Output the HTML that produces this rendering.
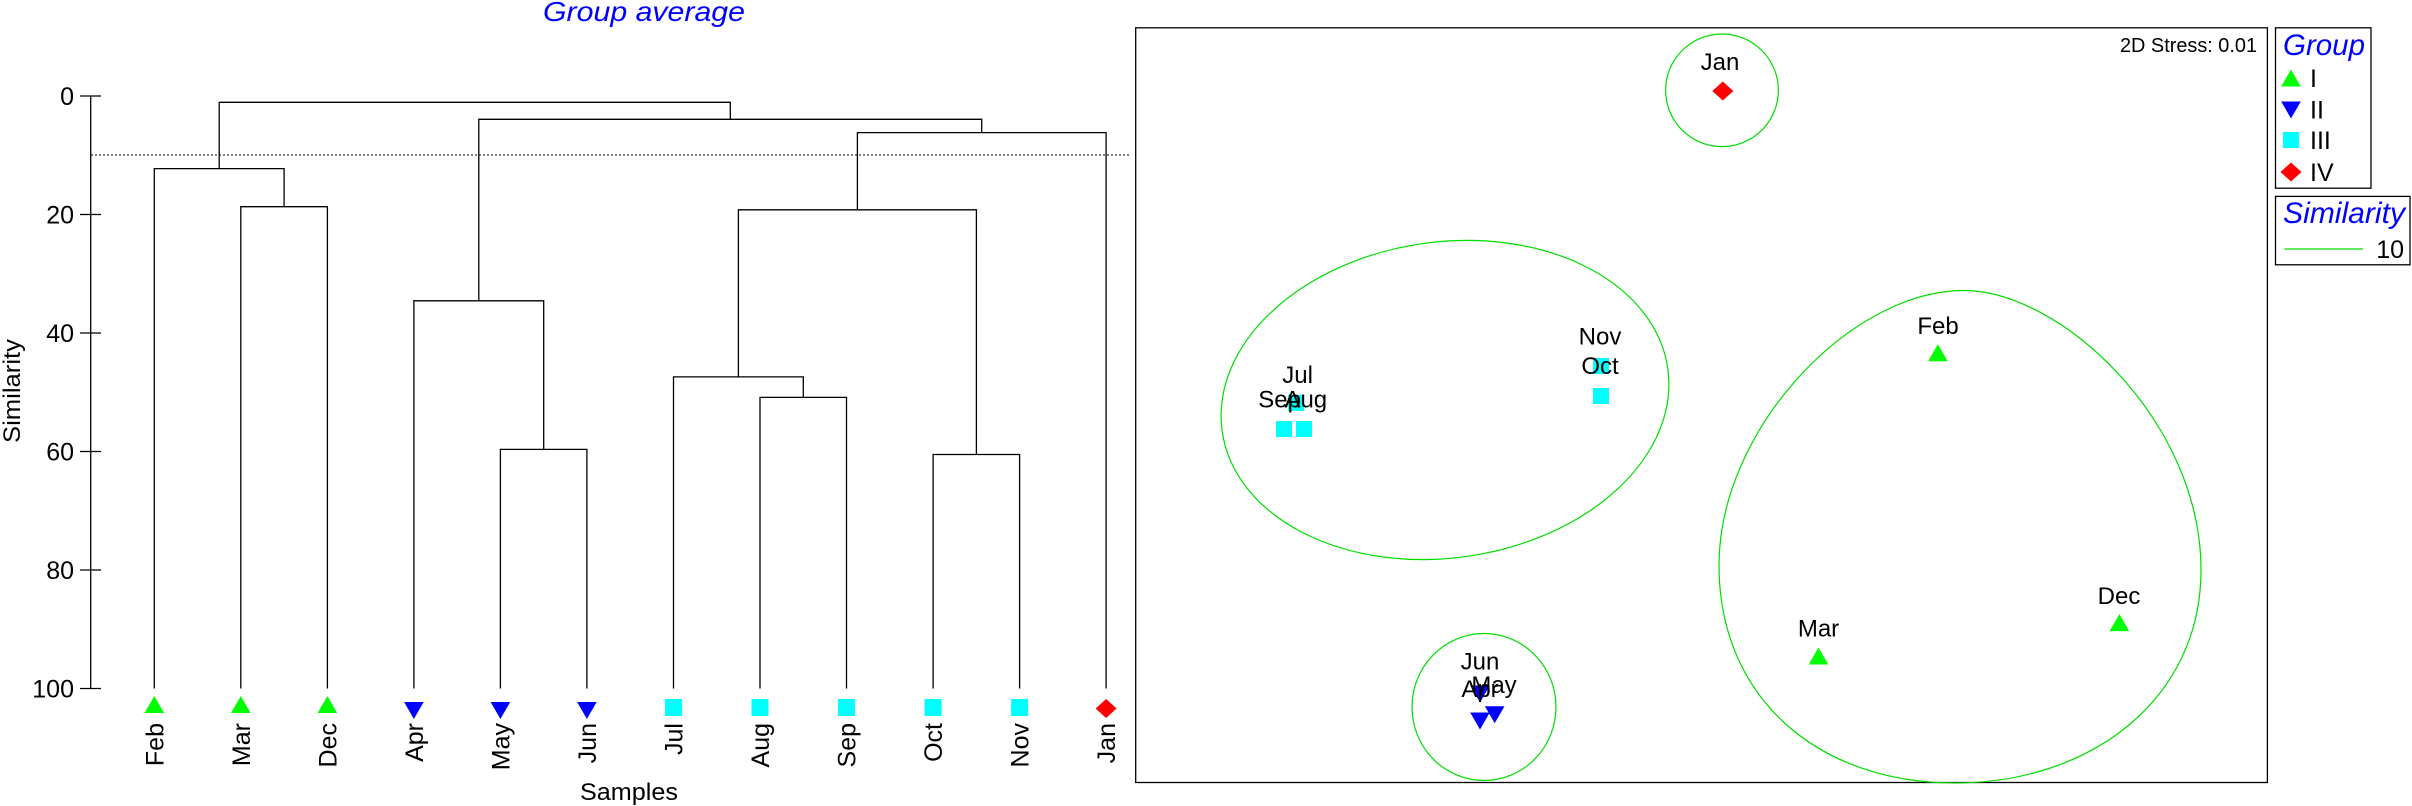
<!DOCTYPE html>
<html><head><meta charset="utf-8"><style>html,body{margin:0;padding:0;background:#fff}svg{display:block}</style></head>
<body>
<svg width="2412" height="806" viewBox="0 0 2412 806" xmlns="http://www.w3.org/2000/svg" font-family="Liberation Sans, sans-serif">
<defs>
<path id="tu" d="M0,-8.5 L9.8,8.5 L-9.8,8.5Z"/>
<path id="td" d="M0,8.5 L9.8,-8.5 L-9.8,-8.5Z"/>
<rect id="sq" x="-8.5" y="-8.5" width="17" height="17"/>
<path id="dm" d="M0,-9.5 L10.5,0 L0,9.5 L-10.5,0Z"/>
</defs>
<text x="543" y="21" font-size="28" font-style="italic" fill="#0000ff" textLength="202" lengthAdjust="spacingAndGlyphs">Group average</text>
<g stroke="#000" stroke-width="1.3" fill="none">
<line x1="90.7" y1="96" x2="90.7" y2="688.5"/>
<line x1="80" y1="96" x2="101" y2="96"/>
<line x1="80" y1="214.5" x2="101" y2="214.5"/>
<line x1="80" y1="333" x2="101" y2="333"/>
<line x1="80" y1="451.5" x2="101" y2="451.5"/>
<line x1="80" y1="570" x2="101" y2="570"/>
<line x1="80" y1="688.5" x2="101" y2="688.5"/>
</g>
<g font-size="25" text-anchor="end" fill="#000">
<text x="74" y="105">0</text>
<text x="74" y="223.5">20</text>
<text x="74" y="342">40</text>
<text x="74" y="460.5">60</text>
<text x="74" y="579">80</text>
<text x="74" y="697.5">100</text>
</g>
<text transform="translate(20,391) rotate(-90)" font-size="24" text-anchor="middle" textLength="104" lengthAdjust="spacingAndGlyphs">Similarity</text>
<text x="629" y="800" font-size="24" text-anchor="middle" textLength="98" lengthAdjust="spacingAndGlyphs">Samples</text>
<line x1="91" y1="155" x2="1130" y2="155" stroke="#000" stroke-width="1" stroke-dasharray="2,2"/>
<g stroke="#000" stroke-width="1.3" fill="none">
<path d="M240.8,688.5 V206.7 H327.4 V688.5"/>
<path d="M154.3,688.5 V168.6 H284.1 V206.7"/>
<path d="M500.4,688.5 V449.4 H586.9 V688.5"/>
<path d="M413.9,688.5 V300.8 H543.7 V449.4"/>
<path d="M760,688.5 V397.4 H846.5 V688.5"/>
<path d="M673.5,688.5 V376.9 H803.3 V397.4"/>
<path d="M933.1,688.5 V454.5 H1019.6 V688.5"/>
<path d="M738.4,376.9 V209.8 H976.4 V454.5"/>
<path d="M857.4,209.8 V132.6 H1106.1 V688.5"/>
<path d="M478.8,300.8 V119.3 H981.7 V132.6"/>
<path d="M219.2,168.6 V102.3 H730.3 V119.3"/>
</g>
<g fill="#00ff00"><use href="#tu" x="154.3" y="704.5"/><use href="#tu" x="240.8" y="704.5"/><use href="#tu" x="327.4" y="704.5"/></g>
<g fill="#0000ff"><use href="#td" x="413.9" y="710.5"/><use href="#td" x="500.4" y="710.5"/><use href="#td" x="586.9" y="710.5"/></g>
<g fill="#00ffff"><use href="#sq" x="673.5" y="707.5"/><use href="#sq" x="760" y="707.5"/><use href="#sq" x="846.5" y="707.5"/><use href="#sq" x="933.1" y="707.5"/><use href="#sq" x="1019.6" y="707.5"/></g>
<use href="#dm" x="1106.1" y="708.5" fill="#ff0000"/>
<g font-size="25" text-anchor="end" fill="#000">
<text transform="translate(163.3,723) rotate(-90)">Feb</text>
<text transform="translate(249.8,723) rotate(-90)">Mar</text>
<text transform="translate(336.4,723) rotate(-90)">Dec</text>
<text transform="translate(422.9,723) rotate(-90)">Apr</text>
<text transform="translate(509.4,723) rotate(-90)">May</text>
<text transform="translate(595.9,723) rotate(-90)">Jun</text>
<text transform="translate(682.5,723) rotate(-90)">Jul</text>
<text transform="translate(769,723) rotate(-90)">Aug</text>
<text transform="translate(855.5,723) rotate(-90)">Sep</text>
<text transform="translate(942.1,723) rotate(-90)">Oct</text>
<text transform="translate(1028.6,723) rotate(-90)">Nov</text>
<text transform="translate(1115.1,723) rotate(-90)">Jan</text>
</g>
<rect x="1135.7" y="27.8" width="1131.7" height="754.7" fill="none" stroke="#000" stroke-width="1.3"/>
<text x="2257" y="52" font-size="20" text-anchor="end" textLength="137" lengthAdjust="spacingAndGlyphs">2D Stress: 0.01</text>
<g fill="none" stroke="#00dd00" stroke-width="1.2">
<ellipse cx="1722" cy="90.3" rx="56.4" ry="56.3"/>
<ellipse cx="1445" cy="400" rx="225" ry="158" transform="rotate(-8 1445 400)"/>
<ellipse cx="1484" cy="707" rx="72" ry="73.5"/>
<path d="M1964,290.5 C2060,290.5 2201,420 2201,570 C2201,700 2090,783 1955,783 C1820,783 1719,700 1719,565 C1719,430 1850,290.5 1964,290.5Z"/>
</g>
<use href="#dm" x="1722.8" y="91" fill="#ff0000"/>
<g fill="#00ff00"><use href="#tu" x="1937.9" y="352.7"/><use href="#tu" x="1818.5" y="656"/><use href="#tu" x="2119.4" y="622.6"/></g>
<g fill="#00ffff">
<rect x="1593" y="358" width="16" height="16"/><rect x="1593" y="388" width="16" height="16"/>
<rect x="1288" y="395" width="16" height="16"/><rect x="1276" y="421" width="16" height="16"/><rect x="1296" y="421" width="16" height="16"/>
</g>
<g fill="#0000ff"><use href="#td" x="1480" y="694"/><use href="#td" x="1494.7" y="714.7"/><use href="#td" x="1480" y="721"/></g>
<g font-size="24" text-anchor="middle" fill="#000">
<text x="1720" y="70">Jan</text>
<text x="1938" y="334">Feb</text>
<text x="1818.5" y="636.5">Mar</text>
<text x="2119" y="604">Dec</text>
<text x="1600" y="344.5">Nov</text>
<text x="1600" y="374">Oct</text>
<text x="1297.6" y="383">Jul</text>
<text x="1279.6" y="407.7">Sep</text>
<text x="1305.8" y="407.7">Aug</text>
<text x="1480" y="669.4">Jun</text>
<text x="1494" y="693">May</text>
<text x="1480" y="697">Apr</text>
</g>
<rect x="2275.5" y="27.8" width="95.5" height="160.4" fill="none" stroke="#000" stroke-width="1.3"/>
<text x="2283" y="55" font-size="30" font-style="italic" fill="#0000ff" textLength="82" lengthAdjust="spacingAndGlyphs">Group</text>
<use href="#tu" x="2291" y="78" fill="#00ff00"/>
<use href="#td" x="2291" y="110" fill="#0000ff"/>
<rect x="2283" y="132" width="16" height="16" fill="#00ffff"/>
<use href="#dm" x="2291" y="172" fill="#ff0000"/>
<g font-size="25" fill="#000">
<text x="2310" y="87">I</text>
<text x="2310" y="118.5">II</text>
<text x="2310" y="149">III</text>
<text x="2310" y="181">IV</text>
</g>
<rect x="2275.5" y="196.4" width="134.5" height="68.4" fill="none" stroke="#000" stroke-width="1.3"/>
<text x="2283" y="223" font-size="30" font-style="italic" fill="#0000ff" textLength="122" lengthAdjust="spacingAndGlyphs">Similarity</text>
<line x1="2284.5" y1="249" x2="2363" y2="249" stroke="#00dd00" stroke-width="1.2"/>
<text x="2404" y="258" font-size="25" text-anchor="end">10</text>
</svg>
</body></html>
